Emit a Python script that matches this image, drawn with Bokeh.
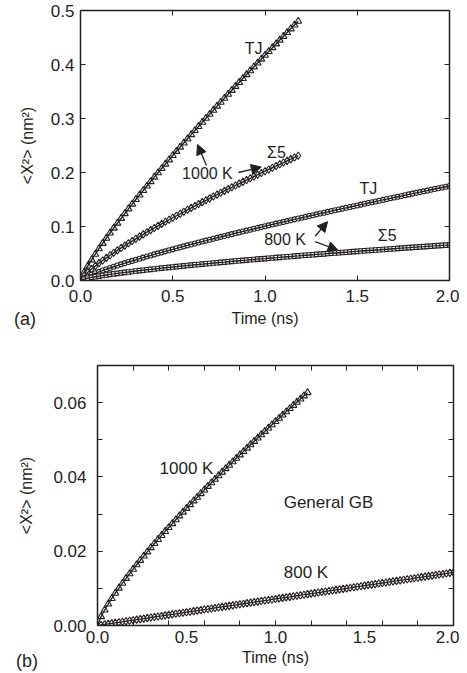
from bokeh.plotting import figure
from bokeh.models import (LinearAxis, FixedTicker, Label, Arrow, NormalHead,
                          Range1d, PrintfTickFormatter, Div)
from bokeh.embed import file_html
from bokeh.resources import INLINE

INK = "#231f20"
FONT = "Liberation Sans"

# ---------------- data ----------------
time_ns = [0.00, 0.02, 0.04, 0.06, 0.08, 0.10, 0.12, 0.14, 0.16, 0.18,
           0.20, 0.22, 0.24, 0.26, 0.28, 0.30, 0.32, 0.34, 0.36, 0.38,
           0.40, 0.42, 0.44, 0.46, 0.48, 0.50, 0.52, 0.54, 0.56, 0.58,
           0.60, 0.62, 0.64, 0.66, 0.68, 0.70, 0.72, 0.74, 0.76, 0.78,
           0.80, 0.82, 0.84, 0.86, 0.88, 0.90, 0.92, 0.94, 0.96, 0.98,
           1.00, 1.02, 1.04, 1.06, 1.08, 1.10, 1.12, 1.14, 1.16, 1.18,
           1.20, 1.22, 1.24, 1.26, 1.28, 1.30, 1.32, 1.34, 1.36, 1.38,
           1.40, 1.42, 1.44, 1.46, 1.48, 1.50, 1.52, 1.54, 1.56, 1.58,
           1.60, 1.62, 1.64, 1.66, 1.68, 1.70, 1.72, 1.74, 1.76, 1.78,
           1.80, 1.82, 1.84, 1.86, 1.88, 1.90, 1.92, 1.94, 1.96, 1.98,
           2.00]
time_short = time_ns[:60]   # 1000 K runs end at 1.18 ns

# panel (a): TJ at 1000 K (triangles)
a_tj_1000 = [0.0000, 0.0150, 0.0270, 0.0382, 0.0487, 0.0589, 0.0688, 0.0784, 0.0879, 0.0970,
             0.1062, 0.1151, 0.1239, 0.1327, 0.1414, 0.1499, 0.1583, 0.1667, 0.1750, 0.1832,
             0.1914, 0.1995, 0.2075, 0.2155, 0.2234, 0.2314, 0.2392, 0.2470, 0.2547, 0.2624,
             0.2701, 0.2777, 0.2853, 0.2930, 0.3005, 0.3079, 0.3154, 0.3229, 0.3302, 0.3376,
             0.3449, 0.3522, 0.3596, 0.3668, 0.3741, 0.3813, 0.3885, 0.3957, 0.4028, 0.4099,
             0.4171, 0.4241, 0.4312, 0.4382, 0.4452, 0.4522, 0.4592, 0.4661, 0.4731, 0.4800]
# panel (a): Sigma5 at 1000 K (diamonds)
a_s5_1000 = [0.0000, 0.0088, 0.0154, 0.0213, 0.0268, 0.0321, 0.0371, 0.0420, 0.0467, 0.0513,
             0.0558, 0.0603, 0.0646, 0.0689, 0.0731, 0.0772, 0.0813, 0.0854, 0.0894, 0.0933,
             0.0972, 0.1011, 0.1049, 0.1087, 0.1125, 0.1162, 0.1199, 0.1236, 0.1272, 0.1309,
             0.1345, 0.1380, 0.1416, 0.1451, 0.1486, 0.1521, 0.1556, 0.1590, 0.1625, 0.1659,
             0.1693, 0.1726, 0.1760, 0.1793, 0.1827, 0.1860, 0.1893, 0.1926, 0.1958, 0.1991,
             0.2024, 0.2056, 0.2088, 0.2120, 0.2152, 0.2184, 0.2216, 0.2247, 0.2279, 0.2310]
# panel (a): TJ at 800 K (circles)
a_tj_800 = [0.0000, 0.0044, 0.0077, 0.0106, 0.0133, 0.0159, 0.0184, 0.0209, 0.0232, 0.0255,
            0.0277, 0.0299, 0.0321, 0.0342, 0.0363, 0.0384, 0.0404, 0.0424, 0.0444, 0.0463,
            0.0483, 0.0502, 0.0521, 0.0540, 0.0559, 0.0577, 0.0596, 0.0614, 0.0632, 0.0650,
            0.0668, 0.0686, 0.0703, 0.0721, 0.0738, 0.0756, 0.0773, 0.0790, 0.0807, 0.0824,
            0.0841, 0.0858, 0.0874, 0.0891, 0.0907, 0.0924, 0.0940, 0.0957, 0.0973, 0.0989,
            0.1005, 0.1021, 0.1037, 0.1053, 0.1069, 0.1085, 0.1100, 0.1116, 0.1132, 0.1147,
            0.1163, 0.1178, 0.1194, 0.1209, 0.1225, 0.1240, 0.1255, 0.1270, 0.1285, 0.1301,
            0.1316, 0.1331, 0.1346, 0.1361, 0.1375, 0.1390, 0.1405, 0.1420, 0.1435, 0.1449,
            0.1464, 0.1478, 0.1493, 0.1508, 0.1522, 0.1537, 0.1551, 0.1565, 0.1580, 0.1594,
            0.1609, 0.1623, 0.1637, 0.1651, 0.1665, 0.1680, 0.1694, 0.1708, 0.1722, 0.1736,
            0.1750]
# panel (a): Sigma5 at 800 K (squares)
a_s5_800 = [0.0000, 0.0026, 0.0043, 0.0057, 0.0069, 0.0081, 0.0092, 0.0103, 0.0113, 0.0122,
            0.0132, 0.0141, 0.0150, 0.0158, 0.0167, 0.0175, 0.0183, 0.0191, 0.0199, 0.0206,
            0.0214, 0.0221, 0.0229, 0.0236, 0.0243, 0.0250, 0.0257, 0.0264, 0.0271, 0.0277,
            0.0284, 0.0291, 0.0297, 0.0304, 0.0310, 0.0316, 0.0323, 0.0329, 0.0335, 0.0341,
            0.0348, 0.0354, 0.0360, 0.0366, 0.0372, 0.0377, 0.0383, 0.0389, 0.0395, 0.0401,
            0.0406, 0.0412, 0.0418, 0.0423, 0.0429, 0.0434, 0.0440, 0.0445, 0.0451, 0.0456,
            0.0462, 0.0467, 0.0472, 0.0478, 0.0483, 0.0488, 0.0493, 0.0499, 0.0504, 0.0509,
            0.0514, 0.0519, 0.0524, 0.0530, 0.0535, 0.0540, 0.0545, 0.0550, 0.0555, 0.0560,
            0.0565, 0.0569, 0.0574, 0.0579, 0.0584, 0.0589, 0.0594, 0.0599, 0.0604, 0.0608,
            0.0613, 0.0618, 0.0623, 0.0627, 0.0632, 0.0637, 0.0641, 0.0646, 0.0651, 0.0655,
            0.0660]
# panel (b): general GB at 1000 K (triangles)
b_gb_1000 = [0.00000, 0.00240, 0.00418, 0.00578, 0.00728, 0.00870, 0.01007, 0.01139, 0.01268, 0.01393,
             0.01516, 0.01636, 0.01754, 0.01870, 0.01984, 0.02096, 0.02207, 0.02317, 0.02425, 0.02533,
             0.02639, 0.02744, 0.02848, 0.02951, 0.03053, 0.03154, 0.03255, 0.03355, 0.03454, 0.03552,
             0.03650, 0.03747, 0.03843, 0.03939, 0.04034, 0.04129, 0.04223, 0.04317, 0.04410, 0.04502,
             0.04594, 0.04686, 0.04777, 0.04868, 0.04959, 0.05048, 0.05138, 0.05227, 0.05316, 0.05404,
             0.05492, 0.05580, 0.05667, 0.05754, 0.05841, 0.05928, 0.06013, 0.06099, 0.06184, 0.06270]
# panel (b): general GB at 800 K (diamonds)
b_gb_800 = [0.00000, 0.00014, 0.00029, 0.00043, 0.00057, 0.00072, 0.00086, 0.00100, 0.00114, 0.00129,
            0.00143, 0.00157, 0.00172, 0.00186, 0.00200, 0.00215, 0.00229, 0.00243, 0.00257, 0.00272,
            0.00286, 0.00300, 0.00315, 0.00329, 0.00343, 0.00358, 0.00372, 0.00386, 0.00400, 0.00415,
            0.00429, 0.00443, 0.00458, 0.00472, 0.00486, 0.00501, 0.00515, 0.00529, 0.00543, 0.00558,
            0.00572, 0.00586, 0.00601, 0.00615, 0.00629, 0.00644, 0.00658, 0.00672, 0.00686, 0.00701,
            0.00715, 0.00729, 0.00744, 0.00758, 0.00772, 0.00787, 0.00801, 0.00815, 0.00829, 0.00844,
            0.00858, 0.00872, 0.00887, 0.00901, 0.00915, 0.00930, 0.00944, 0.00958, 0.00972, 0.00987,
            0.01001, 0.01015, 0.01030, 0.01044, 0.01058, 0.01073, 0.01087, 0.01101, 0.01115, 0.01130,
            0.01144, 0.01158, 0.01173, 0.01187, 0.01201, 0.01216, 0.01230, 0.01244, 0.01258, 0.01273,
            0.01287, 0.01301, 0.01316, 0.01330, 0.01344, 0.01359, 0.01373, 0.01387, 0.01401, 0.01416,
            0.01430]

# ticks
a_x_ticks = [0.0, 0.5, 1.0, 1.5, 2.0]
a_y_ticks = [0.0, 0.1, 0.2, 0.3, 0.4, 0.5]
b_x_ticks = [0.0, 0.5, 1.0, 1.5, 2.0]
b_x_minor = [0.0, 0.2, 0.4, 0.6, 0.8, 1.0, 1.2, 1.4, 1.6, 1.8, 2.0]
b_y_ticks = [0.00, 0.02, 0.04, 0.06]
b_y_minor = [0.00, 0.01, 0.02, 0.03, 0.04, 0.05, 0.06, 0.07]

Y_LABEL = "<X\u00b2> (nm\u00b2)"
X_LABEL = "Time (ns)"


def base_axis(ax):
    ax.axis_line_color = INK
    ax.axis_line_width = 1.5
    ax.major_tick_line_color = INK
    ax.minor_tick_line_color = INK
    ax.major_tick_line_width = 1
    ax.minor_tick_line_width = 1
    ax.major_tick_in = 5
    ax.major_tick_out = 0
    ax.minor_tick_in = 0
    ax.minor_tick_out = 0
    ax.major_label_text_font = FONT
    ax.major_label_text_color = INK
    ax.major_label_text_font_size = "17px"
    ax.axis_label_text_font = FONT
    ax.axis_label_text_font_style = "normal"
    ax.axis_label_text_color = INK
    ax.axis_label_text_font_size = "16px"


def hidden_axis(ticks, minor=None):
    ax = LinearAxis(ticker=FixedTicker(ticks=ticks, minor_ticks=minor or []))
    base_axis(ax)
    ax.major_label_text_font_size = "0px"
    ax.major_label_standoff = 0
    ax.major_label_overrides = {t: "" for t in ticks}
    return ax


def make_fig(h, yr, ml, mr, mt, mb, top):
    p = figure(width=451, height=h, x_range=Range1d(0, 2), y_range=Range1d(*yr),
               output_backend="svg", toolbar_location=None,
               min_border_left=ml, min_border_right=mr,
               min_border_top=mt, min_border_bottom=mb)
    p.outline_line_color = None
    p.xgrid.visible = False
    p.ygrid.visible = False
    p.background_fill_color = "white"
    p.border_fill_color = "white"
    p.styles = {"position": "absolute", "left": "8px", "top": "%dpx" % top}
    return p


def label(p, x, y, text, size="16px"):
    p.add_layout(Label(x=x, y=y, text=text, text_font=FONT, text_font_size=size,
                       text_color=INK, text_align="center", text_baseline="middle"))


def arrow(p, x0, y0, x1, y1):
    p.add_layout(Arrow(end=NormalHead(size=10, fill_color=INK, line_color=INK, line_width=1),
                       x_start=x0, y_start=y0, x_end=x1, y_end=y1,
                       line_color=INK, line_width=1.3))


def panel_tag(text, left, top):
    return Div(text=text, styles={"position": "absolute", "left": "%dpx" % left,
                                  "top": "%dpx" % top, "font-family": FONT,
                                  "font-size": "18px", "color": INK,
                                  "line-height": "20px", "margin": "0"})


# ---------------- panel (a) ----------------
fa = make_fig(335, (0, 0.5), 72, 10, 10, 55, 0)
xa = fa.below[0]
ya = fa.left[0]
base_axis(xa)
base_axis(ya)
xa.ticker = FixedTicker(ticks=a_x_ticks)
ya.ticker = FixedTicker(ticks=a_y_ticks)
xa.formatter = PrintfTickFormatter(format="%.1f")
ya.formatter = PrintfTickFormatter(format="%.1f")
xa.axis_label = X_LABEL
ya.axis_label = Y_LABEL
xa.major_label_standoff = 9
xa.axis_label_standoff = 5
ya.major_label_standoff = 6
ya.axis_label_standoff = 12
fa.add_layout(hidden_axis(a_x_ticks), "above")
fa.add_layout(hidden_axis(a_y_ticks), "right")

mk = dict(fill_color="white", line_color=INK, line_width=1.1)
fa.scatter(time_short, a_tj_1000, marker="triangle", size=7, **mk)
fa.line(time_short, a_tj_1000, line_color=INK, line_width=1.4)
fa.scatter(time_short, a_s5_1000, marker="diamond", size=7.5, **mk)
fa.line(time_short, a_s5_1000, line_color=INK, line_width=1.4)
fa.scatter(time_ns, a_tj_800, marker="circle", size=5, **mk)
fa.line(time_ns, a_tj_800, line_color=INK, line_width=1.4)
fa.scatter(time_ns, a_s5_800, marker="square", size=4.5, **mk)
fa.line(time_ns, a_s5_800, line_color=INK, line_width=1.4)

label(fa, 0.938, 0.430, "TJ")
label(fa, 0.688, 0.198, "1000 K")
label(fa, 1.062, 0.237, "\u03a35")
label(fa, 1.560, 0.170, "TJ")
label(fa, 1.109, 0.076, "800 K")
label(fa, 1.662, 0.083, "\u03a35")
arrow(fa, 0.683, 0.213, 0.634, 0.252)
arrow(fa, 0.856, 0.200, 0.980, 0.210)
arrow(fa, 1.272, 0.082, 1.339, 0.109)
arrow(fa, 1.272, 0.072, 1.396, 0.056)

# ---------------- panel (b) ----------------
fb = make_fig(338, (0, 0.07), 89, 6, 30, 48, 335)
xb = fb.below[0]
yb = fb.left[0]
base_axis(xb)
base_axis(yb)
xb.ticker = FixedTicker(ticks=b_x_ticks, minor_ticks=b_x_minor)
yb.ticker = FixedTicker(ticks=b_y_ticks, minor_ticks=b_y_minor)
xb.major_tick_in = 0
xb.minor_tick_in = 5
yb.minor_tick_in = 5
xb.formatter = PrintfTickFormatter(format="%.1f")
yb.formatter = PrintfTickFormatter(format="%.2f")
xb.axis_label = X_LABEL
yb.axis_label = Y_LABEL
xb.major_label_standoff = 5
xb.axis_label_standoff = 3
yb.major_label_standoff = 11
yb.axis_label_standoff = 15
tb = hidden_axis(b_x_ticks, b_x_minor)
tb.major_tick_in = 0
tb.minor_tick_in = 5
fb.add_layout(tb, "above")
rb = hidden_axis(b_y_ticks, b_y_minor)
rb.minor_tick_in = 5
fb.add_layout(rb, "right")

fb.scatter(time_short, b_gb_1000, marker="triangle", size=7, **mk)
fb.line(time_short, b_gb_1000, line_color=INK, line_width=1.3)
fb.scatter(time_ns, b_gb_800, marker="diamond", size=7.5, **mk)
fb.line(time_ns, b_gb_800, line_color=INK, line_width=1.3)

label(fb, 0.500, 0.0424, "1000 K", size="17px")
label(fb, 1.298, 0.0332, "General GB", size="17px")
label(fb, 1.171, 0.0143, "800 K", size="17px")

tag_a = panel_tag("(a)", 14, 309)
tag_b = panel_tag("(b)", 16, 651)

open("out.html", "w").write(file_html([fa, fb, tag_a, tag_b], INLINE, title="MSD"))
